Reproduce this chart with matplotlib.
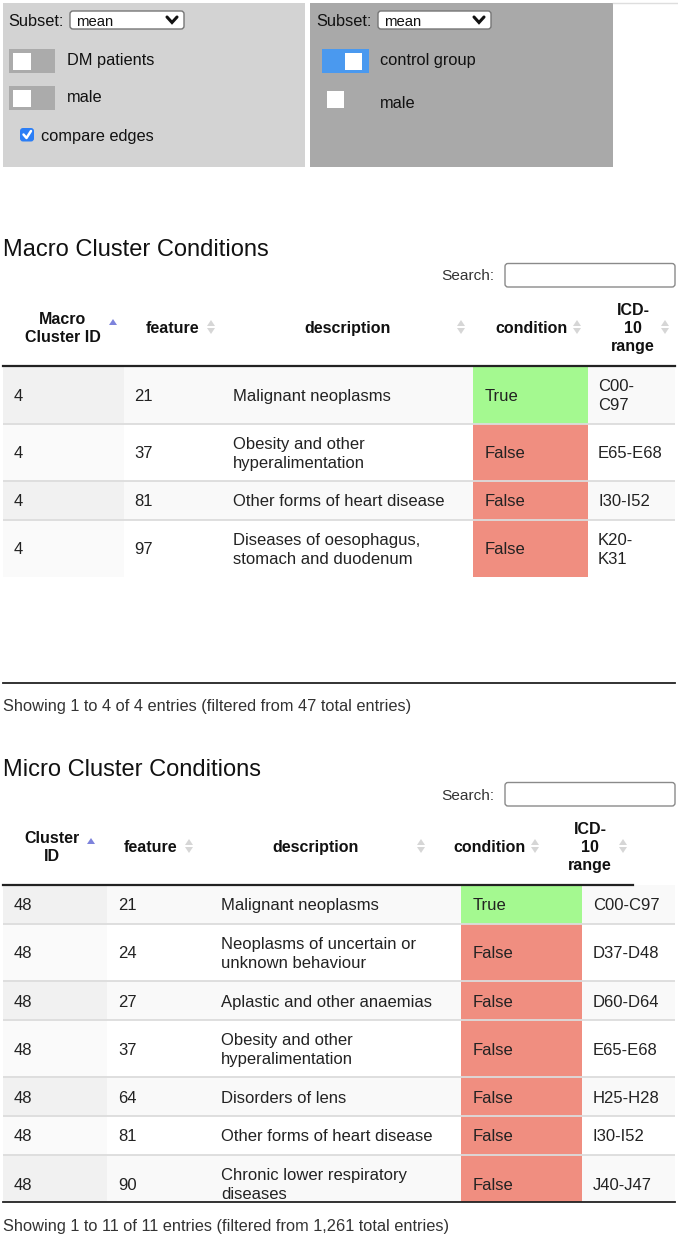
import textwrap
import matplotlib.pyplot as plt
from matplotlib.patches import Rectangle, FancyBboxPatch, Polygon

plt.rcParams["font.family"] = ["Liberation Sans", "DejaVu Sans"]

# --- control panel ---
subset_left = "mean"
subset_right = "mean"
left_switches = ["DM patients", "male"]
right_switches = ["control group", "male"]
compare_label = "compare edges"

# --- macro cluster table ---
macro_title = "Macro Cluster Conditions"
macro_headers = ["Macro\nCluster ID", "feature", "description", "condition", "ICD-\n10\nrange"]
macro_ids = [4, 4, 4, 4]
macro_features = [21, 37, 81, 97]
macro_desc = ["Malignant neoplasms",
              "Obesity and other hyperalimentation",
              "Other forms of heart disease",
              "Diseases of oesophagus, stomach and duodenum"]
macro_cond = ["True", "False", "False", "False"]
macro_icd = ["C00-C97", "E65-E68", "I30-I52", "K20-K31"]
macro_total = 47

# --- micro cluster table ---
micro_title = "Micro Cluster Conditions"
micro_headers = ["Cluster\nID", "feature", "description", "condition", "ICD-\n10\nrange"]
micro_ids = [48, 48, 48, 48, 48, 48, 48]
micro_features = [21, 24, 27, 37, 64, 81, 90]
micro_desc = ["Malignant neoplasms",
              "Neoplasms of uncertain or unknown behaviour",
              "Aplastic and other anaemias",
              "Obesity and other hyperalimentation",
              "Disorders of lens",
              "Other forms of heart disease",
              "Chronic lower respiratory diseases"]
micro_cond = ["True", "False", "False", "False", "False", "False", "False"]
micro_icd = ["C00-C97", "D37-D48", "D60-D64", "E65-E68", "H25-H28", "I30-I52", "J40-J47"]
micro_count = 11
micro_total = 1261

TRUE_C = "#a4f990"
FALSE_C = "#f08e80"
BODY_FS = 12
HEAD_FS = 11.5
CTRL_FS = 11.8

fig = plt.figure(figsize=(6.78, 12.39), dpi=100)
ax = fig.add_axes([0, 0, 1, 1])
ax.set_xlim(0, 678)
ax.set_ylim(1239, 0)
ax.axis("off")


def rect(x0, y0, x1, y1, color, **kw):
    p = Rectangle((x0, y0), x1 - x0, y1 - y0, facecolor=color, edgecolor="none", **kw)
    ax.add_patch(p)
    return p


def dropdown(x0, x1, y, label):
    ax.add_patch(FancyBboxPatch((x0, y - 9), x1 - x0, 18, boxstyle="round,pad=0,rounding_size=3",
                                facecolor="white", edgecolor="#767676", lw=1))
    ax.text(x0 + 6, y + 1.5, label, fontsize=10.7, va="center", ha="left", color="#111")
    cx = x1 - 12
    ax.plot([cx - 5, cx, cx + 5], [y - 3, y + 2.5, y - 3], color="#111", lw=2.2,
            solid_capstyle="round", solid_joinstyle="miter")


def sort_up(x, y, color):
    ax.add_patch(Polygon([[x - 4, y + 3], [x + 4, y + 3], [x, y - 3]], closed=True,
                         facecolor=color, edgecolor="none"))


def sort_both(x, y):
    sort_up(x, y - 4, "#d6d6d6")
    ax.add_patch(Polygon([[x - 4, y + 1], [x + 4, y + 1], [x, y + 7]], closed=True,
                         facecolor="#d6d6d6", edgecolor="none"))


# ---------------- control panels ----------------
rect(3, 3, 305, 167, "#d3d3d3")
rect(310, 3, 613, 167, "#a9a9a9")
ax.plot([613, 678], [3, 3], color="#dedede", lw=1)

ax.text(8, 21.5, "Subset:", fontsize=CTRL_FS, va="center", color="#111")
dropdown(70, 184, 20, subset_left)
for i, lab in enumerate(left_switches):
    yc = 61 + 37 * i
    rect(9, yc - 12, 55, yc + 12, "#ababab")
    rect(13, yc - 8.5, 31, yc + 8.5, "white")
    ax.text(67, yc, lab, fontsize=CTRL_FS, va="center", color="#111")
ax.add_patch(FancyBboxPatch((20, 128), 14, 13.5, boxstyle="round,pad=0,rounding_size=3",
                            facecolor="#2b7ef6", edgecolor="none"))
ax.plot([23.5, 26.5, 31], [134.5, 138, 131], color="white", lw=1.8, solid_capstyle="round")
ax.text(41, 136.5, compare_label, fontsize=CTRL_FS, va="center", color="#111")

ax.text(316, 21.5, "Subset:", fontsize=CTRL_FS, va="center", color="#111")
dropdown(378, 491, 20, subset_right)
rect(322, 49, 369, 73, "#4a99ef")
rect(345, 53, 362, 70, "white")
ax.text(380, 60.5, right_switches[0], fontsize=CTRL_FS, va="center", color="#111")
rect(327, 91, 344, 108, "white")
ax.text(380, 103.5, right_switches[1], fontsize=CTRL_FS, va="center", color="#111")


# ---------------- tables ----------------
def draw_table(title, title_y, search_y, headers, head_x, head_arrow_x, head_y, head_line_x1,
               ids, feats, descs, conds, icds, icd_break, edges, text_x, body_top, body_bottom,
               footer_y, count, total):
    ax.text(3, title_y, title, fontsize=17, va="center", ha="left", color="#111")
    ax.text(441, search_y + 1.5, "Search:", fontsize=11.1, va="center", color="#333")
    ax.add_patch(FancyBboxPatch((505, search_y - 11.5), 170, 23.5,
                                boxstyle="round,pad=0,rounding_size=3",
                                facecolor="white", edgecolor="#8a8a8a", lw=1))
    # header
    for j, h in enumerate(headers):
        ax.text(head_x[j], head_y + 1.5, h, fontsize=HEAD_FS, fontweight="bold", ha="center",
                va="center", multialignment="center", color="#111", linespacing=1.24)
        if j == 0:
            sort_up(head_arrow_x[j], head_y - 5, "#7d83dc")
        else:
            sort_both(head_arrow_x[j], head_y)
    clip = Rectangle((3, body_top), 672, body_bottom - body_top, transform=ax.transData)
    y = body_top
    for i in range(len(ids)):
        d = textwrap.fill(descs[i], 28)
        icd = icds[i].replace("-", "-\n", 1) if icd_break[i] else icds[i]
        n = max(d.count("\n"), icd.count("\n")) + 1
        h = 19.9 + 18.8 * n
        odd = i % 2 == 0
        r0 = rect(edges[0], y, edges[5], y + h, "#f9f9f9" if odd else "white")
        r1 = rect(edges[0], y, edges[1], y + h, "#f1f1f1" if odd else "#fafafa")
        r2 = rect(edges[3], y, edges[4], y + h, TRUE_C if conds[i] == "True" else FALSE_C)
        arts = [r0, r1, r2]
        if i > 0:
            arts += ax.plot([edges[0], edges[5]], [y, y], color="#dcdcdc", lw=1.3)
        yc = y + h / 2 + 1.5
        for x, s in zip(text_x, [str(ids[i]), str(feats[i]), d, conds[i], icd]):
            arts.append(ax.text(x, yc, s, fontsize=BODY_FS, va="center", ha="left",
                                color="#222", linespacing=1.3))
        for a in arts:
            a.set_clip_path(clip)
        y += h
    ax.plot([3, head_line_x1], [body_top, body_top], color="#222", lw=1.6)
    ax.plot([3, 675], [body_bottom, body_bottom], color="#222", lw=1.3)
    ax.text(3, footer_y + 1, f"Showing 1 to {count} of {count} entries (filtered from {total:,} total entries)",
            fontsize=11.8, va="center", ha="left", color="#333")


draw_table(macro_title, 250, 275, macro_headers, [63, 173, 348, 531, 633], [113, 211, 461, 577, 665],
           327, 675, macro_ids, macro_features, macro_desc, macro_cond, macro_icd,
           [True, False, False, True], [3, 124, 223, 473, 588, 675], [14, 134, 233, 485, 598],
           366, 683, 706, len(macro_ids), macro_total)

draw_table(micro_title, 770, 794, micro_headers, [52, 151, 316, 489, 590], [91, 189, 421, 535, 623],
           846, 633, micro_ids, micro_features, micro_desc, micro_cond, micro_icd,
           [False] * len(micro_ids), [3, 107, 211, 461, 582, 675], [14, 118, 221, 473, 593],
           885, 1202, 1226, micro_count, micro_total)

fig.savefig("out.png", dpi=100)
